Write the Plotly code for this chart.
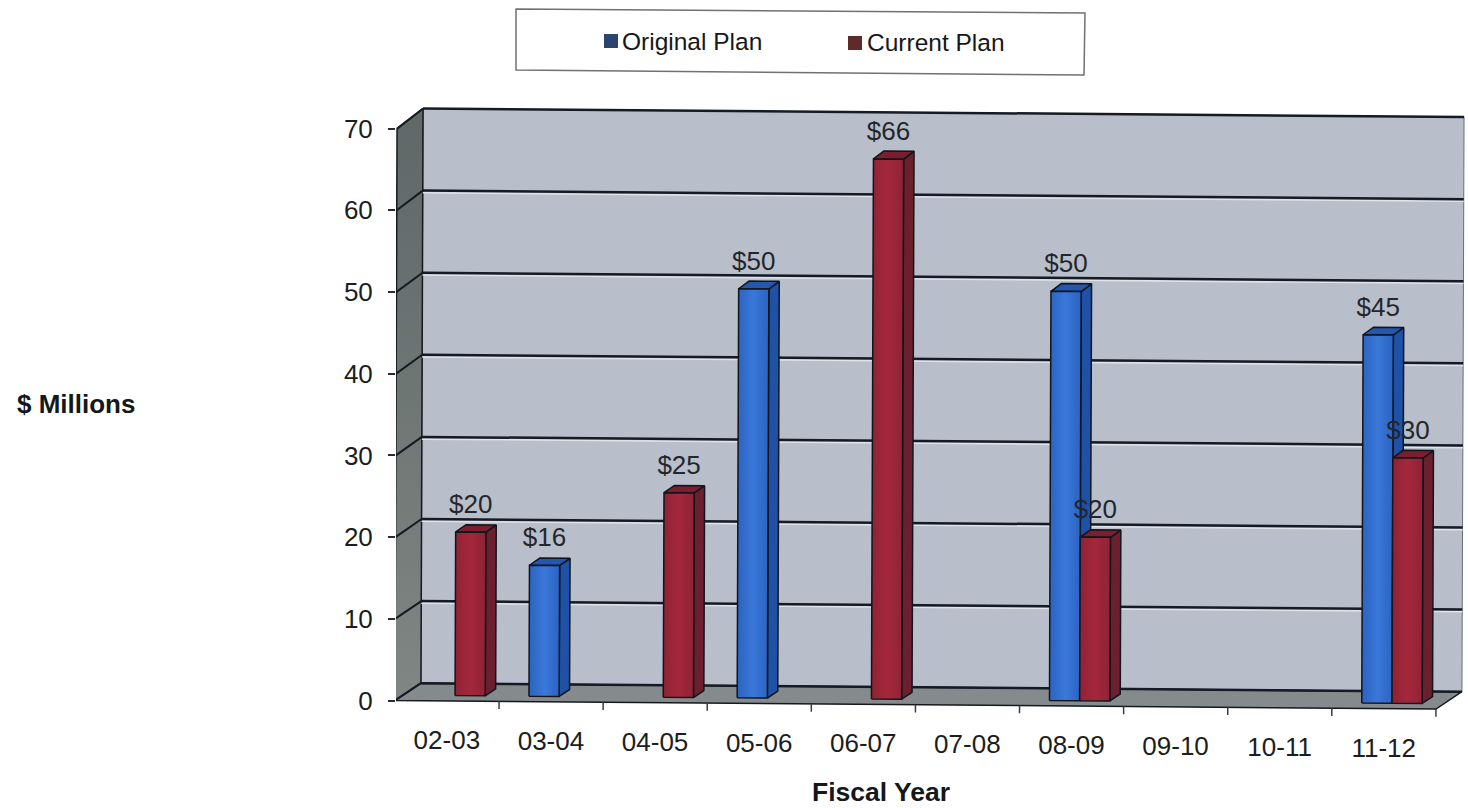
import plotly.graph_objects as go

# Fiscal-year funding plan, $ millions
fiscal_years = ["02-03", "03-04", "04-05", "05-06", "06-07", "07-08", "08-09", "09-10", "10-11", "11-12"]
original_plan = [None, 16, None, 50, None, None, 50, None, None, 45]
current_plan = [20, None, 25, None, 66, None, 20, None, None, 30]
y_ticks = [0, 10, 20, 30, 40, 50, 60, 70]

FONT = "Liberation Sans"
LEFT, RIGHT, TOP, BOTTOM = 396, 1468, 80, 780   # plot area in page pixels
PX_PER_CAT = 104.1
PX_PER_UNIT = 8.17
ZERO_PX = 700.5
DEPTH_DX, DEPTH_LIFT = 26, 17.5     # offset of the back wall from the front plane
DEPTH_SCALE = 0.04                  # extra lift of the back plane per value unit
SLOPE = 8.5 / 1040                  # baseline droop, pixels per pixel
LEAN = 0.03                         # horizontal lean of verticals, pixels per unit
BAR_D0, BAR_D1 = 0.31, 0.71         # front and back of the bars in depth
BAR_W = 0.29


def project(cat, value, depth=0.0, lift_px=0.0):
    """Oblique projection of (category, value, depth) onto the plot axes."""
    px = cat * PX_PER_CAT + depth * DEPTH_DX + (value - 35) * LEAN
    lift = depth * (DEPTH_LIFT + value * DEPTH_SCALE) + lift_px
    return px / PX_PER_CAT, value + (lift - SLOPE * px) / PX_PER_UNIT


def poly(points):
    xs, ys = zip(*[project(*p) for p in points])
    return list(xs) + [xs[0], None], list(ys) + [ys[0], None]


def faces(polys):
    xs, ys = [], []
    for p in polys:
        a, b = poly(p)
        xs += a
        ys += b
    return xs, ys


def add_fill(fig, polys, fill, edge="#11151c", width=1.5):
    xs, ys = faces(polys)
    paint = dict(fillcolor=fill) if isinstance(fill, str) else dict(fillgradient=fill)
    fig.add_trace(go.Scatter(x=xs, y=ys, mode="lines", fill="toself", line=dict(color=edge, width=width),
                             hoverinfo="skip", showlegend=False, **paint))


def add_lines(fig, segments, color, width):
    xs, ys = [], []
    for a, b in segments:
        p, q = project(*a), project(*b)
        xs += [p[0], q[0], None]
        ys += [p[1], q[1], None]
    fig.add_trace(go.Scatter(x=xs, y=ys, mode="lines", line=dict(color=color, width=width),
                             hoverinfo="skip", showlegend=False))


def sheen(edge, middle):
    return dict(type="horizontal", colorscale=[[0, edge], [0.5, middle], [1, edge]])


def add_series(fig, values, start, front, side, top):
    """Draw one series as extruded bars; start is the bar's left edge within its category."""
    bars = [(i + start, v) for i, v in enumerate(values) if v is not None]
    add_fill(fig, [[(c + BAR_W, 0, BAR_D0), (c + BAR_W, v, BAR_D0), (c + BAR_W, v, BAR_D1), (c + BAR_W, 0, BAR_D1)]
                   for c, v in bars], side)
    add_fill(fig, [[(c, v, BAR_D0), (c + BAR_W, v, BAR_D0), (c + BAR_W, v, BAR_D1), (c, v, BAR_D1)]
                   for c, v in bars], top)
    for c, v in bars:
        add_fill(fig, [[(c, 0, BAR_D0), (c + BAR_W, 0, BAR_D0), (c + BAR_W, v, BAR_D0), (c, v, BAR_D0)]], front)


def add_value_labels(fig, values, start):
    pts = [(project(i + start + BAR_W / 2, v, BAR_D0, 25.5), f"${v}") for i, v in enumerate(values) if v is not None]
    fig.add_trace(go.Scatter(x=[p[0][0] for p in pts], y=[p[0][1] for p in pts], text=[p[1] for p in pts],
                             mode="text", textposition="middle center", cliponaxis=False,
                             textfont=dict(family=FONT, size=26, color="#23262b"),
                             hoverinfo="skip", showlegend=False))


fig = go.Figure()
n = len(fiscal_years)
ymax = y_ticks[-1]

# Walls and floor
add_fill(fig, [[(0, 0, 1), (n, 0, 1), (n, ymax, 1), (0, ymax, 1)]], "#b8becA", edge="#6a6f75", width=1)
add_fill(fig, [[(0, 0, 0), (0, ymax, 0), (0, ymax, 1), (0, 0, 1)]],
         dict(type="vertical", colorscale=[[0, "#7f8683"], [1, "#5f6867"]]), edge="#15191d", width=1.5)
add_fill(fig, [[(0, 0, 0), (n, 0, 0), (n, 0, 1), (0, 0, 1)]], "#858b8d", edge="#15191d", width=1.5)

# Gridlines run along the back wall and down the side wall
add_lines(fig, [((0, v - 0.27, 1), (n, v - 0.27, 1)) for v in y_ticks[1:-1]], "#dfe3ea", 1.5)
add_lines(fig, [((0, v, 1), (n, v, 1)) for v in y_ticks], "#151b24", 2.5)
add_lines(fig, [((0, v, 0), (0, v, 1)) for v in y_ticks], "#151b24", 2)

# Category ticks below the front edge
add_lines(fig, [((i, 0, 0), (i, -0.95, 0)) for i in range(n + 1)], "#3a3d40", 1.5)

# Bars: original plan to the left of each category's centre, current plan to the right
add_series(fig, original_plan, 0.5 - BAR_W, sheen("#2b63c0", "#3a78da"), "#1f51a6", "#2457ad")
add_series(fig, current_plan, 0.5, sheen("#8f2234", "#a4283c"), "#6c1f2d", "#7a1f2e")

add_value_labels(fig, original_plan, 0.5 - BAR_W)
add_value_labels(fig, current_plan, 0.5)

# Category labels follow the drooping baseline
xt = [project(i + 0.5, -5.1) for i in range(n)]
fig.add_trace(go.Scatter(x=[p[0] for p in xt], y=[p[1] for p in xt], text=fiscal_years, mode="text",
                         textposition="middle center", cliponaxis=False,
                         textfont=dict(family=FONT, size=26, color="#1b1d20"),
                         hoverinfo="skip", showlegend=False))


def paper_x(px):
    return (px - LEFT) / (RIGHT - LEFT)


def paper_y(py):
    return (BOTTOM - py) / (BOTTOM - TOP)


def note(text, px, py, anchor="left", size=24.5, bold=False):
    return dict(text=f"<b>{text}</b>" if bold else text, xref="paper", yref="paper", x=paper_x(px), y=paper_y(py),
                xanchor=anchor, yanchor="middle", showarrow=False,
                font=dict(family=FONT, size=size, color="#15171a"))


def swatch(x0, y0, size, color):
    return dict(type="rect", xref="paper", yref="paper", x0=paper_x(x0), x1=paper_x(x0 + size),
                y0=paper_y(y0), y1=paper_y(y0 + size), fillcolor=color, line=dict(width=0))


box = [(516, 9), (1085, 13), (1084, 75), (516, 70)]
box_path = "M " + " L ".join(f"{paper_x(a):.5f} {paper_y(b):.5f}" for a, b in box) + " Z"

fig.update_layout(
    width=1468, height=808,
    margin=dict(l=LEFT, r=0, t=TOP, b=808 - BOTTOM),
    paper_bgcolor="white", plot_bgcolor="white",
    xaxis=dict(visible=False, range=[0, (RIGHT - LEFT) / PX_PER_CAT], fixedrange=True),
    yaxis=dict(range=[(ZERO_PX - BOTTOM) / PX_PER_UNIT, (ZERO_PX - TOP) / PX_PER_UNIT],
               tickmode="array", tickvals=y_ticks, ticks="outside", ticklen=7, tickwidth=1.5,
               ticklabelstandoff=10, tickcolor="#2a2d30", showgrid=False, zeroline=False, showline=False,
               tickfont=dict(family=FONT, size=26, color="#1b1d20"), fixedrange=True),
    showlegend=False,
    shapes=[
        dict(type="path", xref="paper", yref="paper", path=box_path, fillcolor="white",
             line=dict(color="#6f7173", width=1.5)),
        swatch(604, 34, 14, "#2b4570"),
        swatch(848, 36, 14, "#5e2a2a"),
    ],
    annotations=[
        note("Original Plan", 620, 41),
        note("Current Plan", 865, 43),
        note("$ Millions", 15, 404, size=26, bold=True),
        note("Fiscal Year", 809.5, 792, size=26.5, bold=True),
    ],
)

fig.write_html("out.html")
